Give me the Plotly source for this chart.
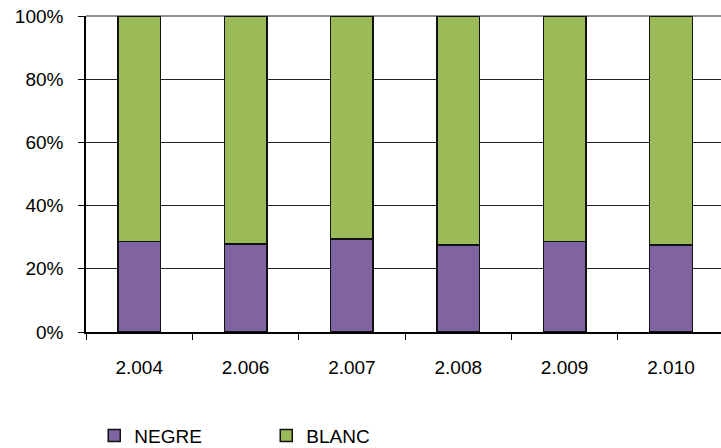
import plotly.graph_objects as go

years = ["2.004", "2.006", "2.007", "2.008", "2.009", "2.010"]
negre = [28.7, 27.9, 29.5, 27.5, 28.6, 27.5]
blanc = [100 - v for v in negre]

fig = go.Figure()
fig.add_trace(go.Bar(
    x=years, y=negre, name="NEGRE",
    marker=dict(color="#8064A2", line=dict(color="#111111", width=1.5)),
    width=0.4,
))
fig.add_trace(go.Bar(
    x=years, y=blanc, name="BLANC",
    marker=dict(color="#9BBB59", line=dict(color="#111111", width=1.5)),
    width=0.4,
))

fig.update_layout(
    width=721, height=448,
    barmode="stack",
    plot_bgcolor="rgba(0,0,0,0)",
    paper_bgcolor="white",
    margin=dict(l=86, r=0, t=16, b=116, autoexpand=False),
    font=dict(family="Liberation Sans, Arial, sans-serif", size=19, color="#000000"),
    showlegend=True,
    legend=dict(
        orientation="h", traceorder="normal",
        x=0.013, xanchor="left", y=-0.268, yanchor="top",
        entrywidth=127, entrywidthmode="pixels",
        itemwidth=30, font=dict(size=19),
    ),
)

# top border line of the plot area (grey, like the original)
fig.add_shape(type="line", xref="paper", x0=0, x1=1, yref="paper", y0=1, y1=1,
              line=dict(color="#8c8c8c", width=2), layer="below")

fig.update_xaxes(
    type="category", range=[-0.5, 5.47], automargin=False,
    showline=True, linecolor="#000000", linewidth=2,
    ticks="outside", tickson="boundaries", ticklen=6, tickcolor="#000000",
    showgrid=False, ticklabelstandoff=17,
)
fig.update_yaxes(
    range=[0, 100], tickvals=[0, 20, 40, 60, 80, 100], automargin=False,
    ticktext=["0%", "20%", "40%", "60%", "80%", "100%"],
    showline=True, linecolor="#000000", linewidth=1.5,
    ticks="outside", ticklen=6, tickcolor="#000000",
    showgrid=True, gridcolor="#222222", gridwidth=1.2,
    zeroline=False, ticklabelstandoff=11,
)

# drop the default body margin so the figure sits at the page corner
fig.write_html("out.html", config={"displayModeBar": False},
               post_script="document.body.style.margin='0';")
